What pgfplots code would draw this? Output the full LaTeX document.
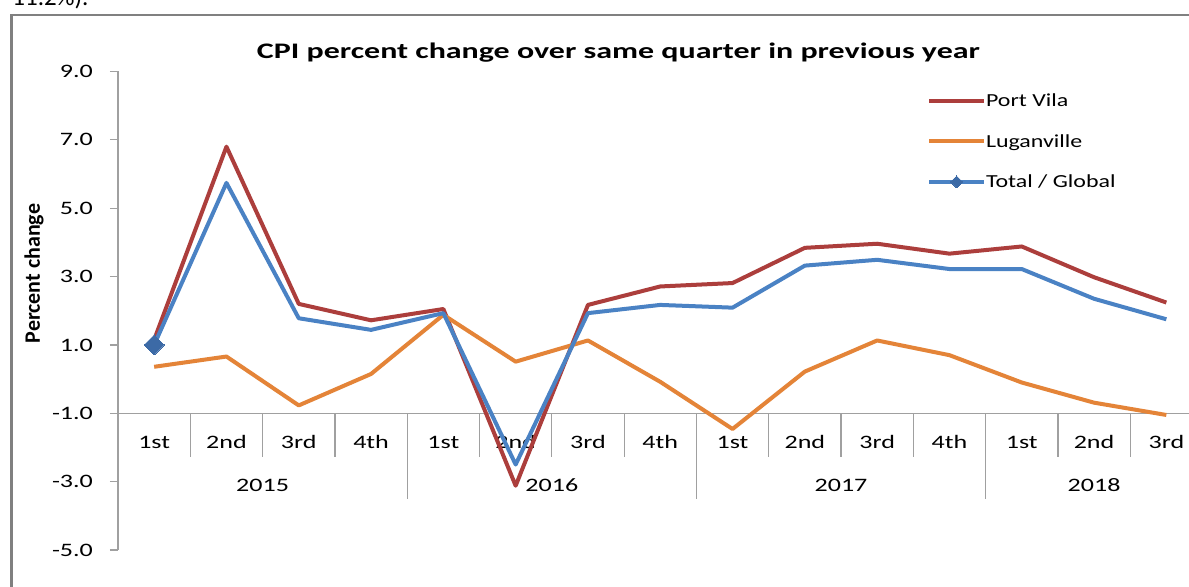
\documentclass[border=0pt]{standalone}
\usepackage{pgfplots}
\usepackage{pgfplotstable}
\pgfplotsset{compat=1.18}
\usepackage{fontspec}
\setmainfont{Carlito}
\newfontfamily\tickfont{Carlito}[FakeStretch=1.37]
\newfontfamily\legfont{Carlito}[FakeStretch=1.30]
\newfontfamily\titlefont{Carlito}[FakeStretch=1.44]
\newfontfamily\ylabfont{Carlito}
\definecolor{pvred}{RGB}{172,62,60}
\definecolor{lugor}{RGB}{228,132,56}
\definecolor{totbl}{RGB}{74,130,196}
\definecolor{mkbl}{RGB}{60,106,166}
\definecolor{axgray}{RGB}{160,160,160}
\definecolor{framegray}{RGB}{128,128,128}

\pgfplotstableread{
idx pv lug tot
0 1.15 0.36 1.00
1 6.80 0.66 5.74
2 2.20 -0.77 1.78
3 1.72 0.15 1.44
4 2.05 1.88 1.93
5 -3.12 0.51 -2.50
6 2.17 1.13 1.93
7 2.71 -0.08 2.17
8 2.81 -1.46 2.09
9 3.84 0.22 3.32
10 3.96 1.13 3.49
11 3.67 0.70 3.22
12 3.88 -0.10 3.22
13 2.98 -0.69 2.35
14 2.24 -1.05 1.75
}\datatable

\begin{document}
\begin{tikzpicture}
\path[use as bounding box, clip] (0,0) rectangle (594.5pt,293.5pt);
\fill[white] (0,0) rectangle (594.5pt,293.5pt);
\draw[framegray, line width=1.25pt] (5.75pt,-5pt) -- (5.75pt,286pt) -- (600pt,286pt);
\node[anchor=base west, inner sep=0pt, font=\fontsize{12.5pt}{14pt}\selectfont] at (6pt,290.5pt) {11.2\%).};
\begin{axis}[
  at={(59pt,18.5pt)}, anchor=south west,
  scale only axis, width=542.25pt, height=239.25pt,
  xmin=-0.5, xmax=14.5, ymin=-5, ymax=9,
  axis y line*=left, axis x line*=bottom,
  x axis line style={draw=none},
  y axis line style={draw=axgray, line width=0.6pt, -},
  xtick={0,...,14},
  xticklabels={1st,2nd,3rd,4th,1st,2nd,3rd,4th,1st,2nd,3rd,4th,1st,2nd,3rd},
  major x tick style={draw=none},
  xticklabel style={font=\tickfont\fontsize{9.5pt}{10pt}\selectfont, anchor=center, yshift=57.9pt},
  ytick={-5,-3,...,9},
  tick align=outside,
  major tick length=4pt,
  major y tick style={draw=axgray, line width=0.6pt},
  /pgf/number format/assume math mode=true,
  yticklabel style={font=\tickfont\fontsize{9.5pt}{10pt}\selectfont, anchor=east, xshift=-5pt,
    /pgf/number format/.cd, fixed, fixed zerofill, precision=1},
  title={\titlefont\bfseries CPI percent change over same quarter in previous year},
  title style={at={(axis description cs:0.4615,1.0025)}, anchor=base, font=\fontsize{11.1pt}{13pt}\selectfont, inner sep=0pt},
  ylabel={Percent change},
  ylabel style={at={(axis description cs:-0.0775,0.5778)}, anchor=center, font=\ylabfont\bfseries\fontsize{11pt}{13pt}\selectfont, inner sep=0pt},
  legend style={at={(axis description cs:0.7460,0.9509)}, anchor=north west, draw=none, fill=none,
    inner sep=0pt, outer sep=0pt, row sep=14.25pt, column sep=0pt,
    font=\legfont\fontsize{9.2pt}{10pt}\selectfont,
    nodes={inner sep=0pt, text height=6pt, text depth=0pt}},
  legend cell align=left,
  legend image code/.code={\draw[#1] (0pt,0pt) -- (27.5pt,0pt);},
  line join=round,
]
\draw[axgray, line width=0.6pt] (axis cs:-0.5,-1) -- (axis cs:14.5,-1);
\pgfplotsinvokeforeach{0.5,1.5,2.5,4.5,5.5,6.5,8.5,9.5,10.5,12.5,13.5}{
  \draw[axgray, line width=0.6pt] (axis cs:#1,-1) -- ++(0pt,-21.7pt);
}
\pgfplotsinvokeforeach{3.5,7.5,11.5}{
  \draw[axgray, line width=0.6pt] (axis cs:#1,-1) -- ++(0pt,-42.85pt);
}
\node[font=\tickfont\fontsize{9.5pt}{10pt}\selectfont, yshift=-35.85pt] at (axis cs:1.5,-1) {2015};
\node[font=\tickfont\fontsize{9.5pt}{10pt}\selectfont, yshift=-35.85pt] at (axis cs:5.5,-1) {2016};
\node[font=\tickfont\fontsize{9.5pt}{10pt}\selectfont, yshift=-35.85pt] at (axis cs:9.5,-1) {2017};
\node[font=\tickfont\fontsize{9.5pt}{10pt}\selectfont, yshift=-35.85pt] at (axis cs:13,-1) {2018};

\addplot[pvred, line width=2pt, line join=round] table[x=idx,y=pv]{\datatable};
\addlegendentry{Port Vila}
\addplot[lugor, line width=2pt, line join=round] table[x=idx,y=lug]{\datatable};
\addlegendentry{Luganville}
\addplot[totbl, line width=2pt, line join=round, mark=diamond*, mark indices={1}, mark size=5pt,
  mark options={draw=mkbl, fill=mkbl, line width=0pt, xscale=1.33},
  legend image code/.code={
    \draw[totbl, line width=2pt] (0pt,0pt) -- (27.5pt,0pt);
    \path plot[mark=diamond*, mark size=3pt, mark options={draw=mkbl, fill=mkbl, line width=0pt, xscale=1.33}] coordinates {(13.75pt,0pt)};
  }] table[x=idx,y=tot]{\datatable};
\addlegendentry{Total / Global}
\end{axis}
\end{tikzpicture}
\end{document}
